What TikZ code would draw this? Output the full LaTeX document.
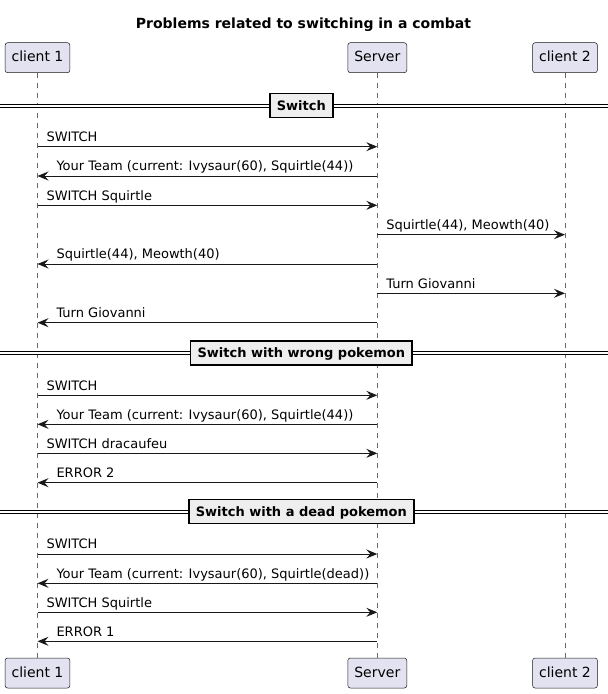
\documentclass[tikz,border=0pt]{standalone}
\usepackage{fontspec}
\setmainfont{DejaVu Sans}
\usetikzlibrary{arrows.meta}
\definecolor{boxfill}{HTML}{E2E2F0}
\definecolor{linecol}{HTML}{181818}
\definecolor{divfill}{HTML}{EEEEEE}

\begin{document}
\begin{tikzpicture}[x=1pt,y=-1pt,
    participant/.style={draw=linecol,fill=boxfill,line width=0.5pt,rounded corners=2.5pt,minimum height=30pt,inner xsep=6.5pt,inner ysep=0pt,text height=10pt,text depth=2pt,font=\fontsize{14}{16}\selectfont},
    lifeline/.style={draw=linecol!65,line width=0.5pt,dash pattern=on 5pt off 5pt},
    msg/.style={draw=linecol,line width=1pt,-{Stealth[length=11pt,width=9pt,inset=4pt]}},
    txtr/.style={pos=0,anchor=base west,xshift=8.5pt,yshift=5.3pt,inner sep=0pt,font=\fontsize{13}{15}\selectfont},
    txtl/.style={pos=1,anchor=base west,xshift=18.5pt,yshift=5.3pt,inner sep=0pt,font=\fontsize{13}{15}\selectfont},
    divline/.style={draw=black,line width=1pt,double=white,double distance=1.7pt},
    divbox/.style={draw=black,line width=1.6pt,fill=divfill,minimum height=24pt,inner xsep=7pt,inner ysep=0pt,text height=10pt,text depth=0.5pt,font=\bfseries\fontsize{13}{15}\selectfont}]
      \useasboundingbox (0,0) rectangle (608,694);

      %Titre
      \node[anchor=base,font=\bfseries\fontsize{14}{16}\selectfont] (Title) at (303.5,28) {Problems related to switching in a combat};

      %Participants
      \node[participant] (Client1Top) at (37.5,57.7) {client 1};
      \node[participant] (ServerTop) at (377.3,57.7) {Server};
      \node[participant] (Client2Top) at (565,57.7) {client 2};

      \node[participant] (Client1Bottom) at (37.5,673) {client 1};
      \node[participant] (ServerBottom) at (377.3,673) {Server};
      \node[participant] (Client2Bottom) at (565,673) {client 2};

      %Lignes de vie
      \draw[lifeline] (Client1Top) -- (Client1Bottom);
      \draw[lifeline] (ServerTop) -- (ServerBottom);
      \draw[lifeline] (Client2Top) -- (Client2Bottom);

      %Switch
      \draw[divline] (0,106) -- (608,106);
      \node[divbox] (Switch) at (301.3,105.3) {Switch\hspace{6pt}};

      \draw[msg] (Client1Top |- 0,146.7) -- (ServerTop |- 0,146.7) node[txtr] {SWITCH};
      \draw[msg] (ServerTop |- 0,176) -- (Client1Top |- 0,176) node[txtl] {Your Team (current: Ivysaur(60), Squirtle(44))};
      \draw[msg] (Client1Top |- 0,205.3) -- (ServerTop |- 0,205.3) node[txtr] {SWITCH Squirtle};
      \draw[msg] (ServerTop |- 0,234.7) -- (Client2Top |- 0,234.7) node[txtr] {Squirtle(44), Meowth(40)};
      \draw[msg] (ServerTop |- 0,264) -- (Client1Top |- 0,264) node[txtl] {Squirtle(44), Meowth(40)};
      \draw[msg] (ServerTop |- 0,293.3) -- (Client2Top |- 0,293.3) node[txtr] {Turn Giovanni};
      \draw[msg] (ServerTop |- 0,322.7) -- (Client1Top |- 0,322.7) node[txtl] {Turn Giovanni};

      %Switch with wrong pokemon
      \draw[divline] (0,353.3) -- (608,353.3);
      \node[divbox] (SwitchWrong) at (301.3,352.8) {Switch with wrong pokemon\hspace{6pt}};

      \draw[msg] (Client1Top |- 0,395.3) -- (ServerTop |- 0,395.3) node[txtr] {SWITCH};
      \draw[msg] (ServerTop |- 0,424.3) -- (Client1Top |- 0,424.3) node[txtl] {Your Team (current: Ivysaur(60), Squirtle(44))};
      \draw[msg] (Client1Top |- 0,453.3) -- (ServerTop |- 0,453.3) node[txtr] {SWITCH dracaufeu};
      \draw[msg] (ServerTop |- 0,482.7) -- (Client1Top |- 0,482.7) node[txtl] {ERROR 2};

      %Switch with a dead pokemon
      \draw[divline] (0,512) -- (608,512);
      \node[divbox] (SwitchDead) at (301.3,511.3) {Switch with a dead pokemon\hspace{6pt}};

      \draw[msg] (Client1Top |- 0,554) -- (ServerTop |- 0,554) node[txtr] {SWITCH};
      \draw[msg] (ServerTop |- 0,583.3) -- (Client1Top |- 0,583.3) node[txtl] {Your Team (current: Ivysaur(60), Squirtle(dead))};
      \draw[msg] (Client1Top |- 0,612.3) -- (ServerTop |- 0,612.3) node[txtr] {SWITCH Squirtle};
      \draw[msg] (ServerTop |- 0,641.3) -- (Client1Top |- 0,641.3) node[txtl] {ERROR 1};
\end{tikzpicture}
\end{document}
